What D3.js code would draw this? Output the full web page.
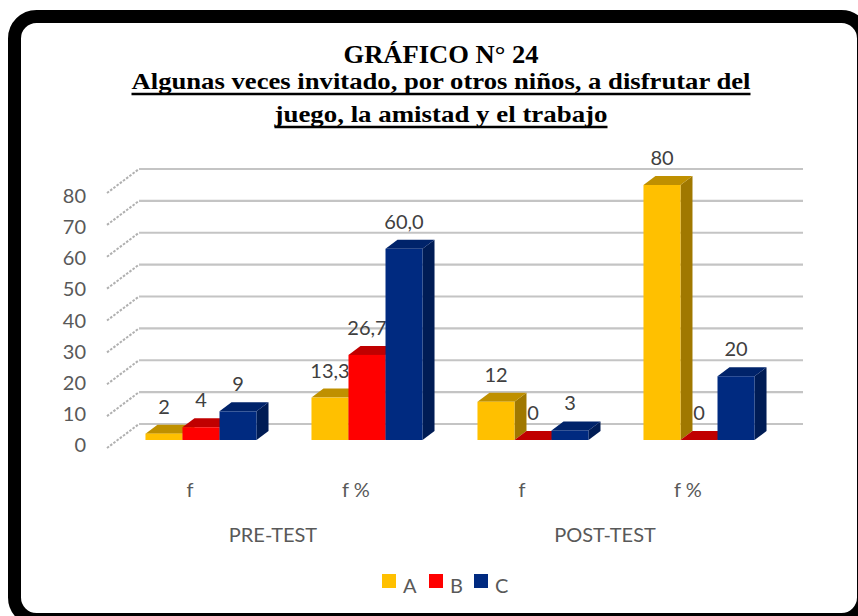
<!DOCTYPE html>
<html>
<head>
<meta charset="utf-8">
<script src="https://cdn.jsdelivr.net/npm/d3@7"></script>
<style>
  body { margin: 0; background: #fff; }
  svg { display: block; }
</style>
</head>
<body>
<div id="chart"></div>
<script>
// Data
var categories = ["f", "f %", "f", "f %"];
var groups = ["PRE-TEST", "POST-TEST"];
var seriesNames = ["A", "B", "C"];
var valuesA = [2, 13.3, 12, 80];
var valuesB = [4, 26.7, 0, 0];
var valuesC = [9, 60.0, 3, 20];
var labelsA = ["2", "13,3", "12", "80"];
var labelsB = ["4", "26,7", "0", "0"];
var labelsC = ["9", "60,0", "3", "20"];
var yTicks = [0, 10, 20, 30, 40, 50, 60, 70, 80];
var titleLines = ["GRÁFICO N° 24",
    "Algunas veces invitado, por otros niños, a disfrutar del",
    "juego, la amistad y el trabajo"];

var seriesValues = [valuesA, valuesB, valuesC];
var seriesLabels = [labelsA, labelsB, labelsC];

// colours: front, top, side
var front = ["#FFC000", "#FF0000", "#002A80"];
var topC  = ["#BF9000", "#C00000", "#00236A"];
var side  = ["#A07800", "#B00000", "#001C55"];

var svg = d3.select("#chart").append("svg")
    .attr("width", 858)
    .attr("height", 616);

// Global constants
var depthX = 32, depthY = -24;         // full depth of the 3D box
var barShiftX = 11, barShiftY = -8;    // bar front plane
var barDepthX = 12, barDepthY = -9;    // bar thickness
var font = "Lato, 'Open Sans', sans-serif";

// Scales
var xScale = d3.scaleBand()
    .domain(d3.range(categories.length))
    .range([107, 771])
    .paddingInner(0.331)
    .paddingOuter(0.1655);
var sScale = d3.scaleBand()
    .domain(seriesNames)
    .range([0, xScale.bandwidth()]);
var yScale = d3.scaleLinear()
    .domain([0, 80])
    .range([448, 193]);
var labelScale = d3.scaleLinear()
    .domain([0, 80])
    .range([445, 196]);

// Frame
svg.append("rect")
    .attr("x", 14.5)
    .attr("y", 16.5)
    .attr("width", 849)
    .attr("height", 603)
    .attr("rx", 22)
    .attr("fill", "#fff")
    .attr("stroke", "#000")
    .attr("stroke-width", 13);

// Title
var titleY = [63, 89, 122];
var titleW = [195, 619, 333];
titleLines.forEach(function(t, i) {
    svg.append("text")
        .attr("x", 441 - titleW[i] / 2)
        .attr("y", titleY[i])
        .attr("textLength", titleW[i])
        .attr("lengthAdjust", "spacingAndGlyphs")
        .style("font-family", "'Liberation Serif', 'Times New Roman', serif")
        .style("font-weight", "bold")
        .style("font-size", i == 0 ? "26px" : "23px")
        .attr("fill", "#000")
        .text(t);
    if (i > 0) {
        svg.append("line")
            .attr("x1", 441 - titleW[i] / 2)
            .attr("x2", 441 + titleW[i] / 2)
            .attr("y1", titleY[i] + 5)
            .attr("y2", titleY[i] + 5)
            .attr("stroke", "#000")
            .attr("stroke-width", 2.5);
    }
});

// Gridlines: back wall and dashed side wall
var grid = svg.append("g").attr("class", "grid");
yTicks.forEach(function(v) {
    var y = yScale(v);
    grid.append("line")
        .attr("x1", 107 + depthX).attr("x2", 771 + depthX)
        .attr("y1", y + depthY).attr("y2", y + depthY)
        .attr("stroke", "#c4c4c4")
        .attr("stroke-width", 2.2);
    grid.append("line")
        .attr("x1", 107).attr("x2", 107 + depthX)
        .attr("y1", y).attr("y2", y + depthY)
        .attr("stroke", "#b0b0b0")
        .attr("stroke-width", 2)
        .attr("stroke-dasharray", "2.5,1.5");
});

// Y axis labels
svg.append("g").selectAll("text")
    .data(yTicks)
    .enter().append("text")
    .attr("x", 86)
    .attr("y", function(d) { return labelScale(d); })
    .attr("dy", "0.35em")
    .attr("text-anchor", "end")
    .style("font-family", font)
    .style("font-size", "20px")
    .attr("fill", "#595959")
    .text(function(d) { return d; });

// Data labels (drawn behind the bars)
var barData = [];
categories.forEach(function(c, i) {
    seriesNames.forEach(function(s, j) {
        barData.push({ cat: i, s: j, name: s, v: seriesValues[j][i], label: seriesLabels[j][i] });
    });
});

function bx(d) { return xScale(d.cat) + sScale(d.name) + barShiftX; }
function by(v) { return yScale(v) + barShiftY; }

svg.append("g").selectAll("text")
    .data(barData)
    .enter().append("text")
    .attr("x", function(d) { return bx(d) + sScale.bandwidth() / 2; })
    .attr("y", function(d) { return by(d.v) - 27; })
    .attr("dy", "0.35em")
    .attr("text-anchor", "middle")
    .style("font-family", font)
    .style("font-size", "20px")
    .attr("fill", "#404040")
    .text(function(d) { return d.label; });

// Bars
var w = sScale.bandwidth();
var bars = svg.append("g").selectAll("g.bar")
    .data(barData)
    .enter().append("g")
    .attr("class", "bar");

bars.append("path")
    .attr("d", function(d) {
        var x = bx(d) + w, yt = by(d.v), yb = by(0);
        return "M" + x + "," + yb + "L" + x + "," + yt +
            "L" + (x + barDepthX) + "," + (yt + barDepthY) +
            "L" + (x + barDepthX) + "," + (yb + barDepthY) + "Z";
    })
    .attr("fill", function(d) { return side[d.s]; });

bars.append("path")
    .attr("d", function(d) {
        var x = bx(d), yt = by(d.v);
        return "M" + x + "," + yt + "L" + (x + w) + "," + yt +
            "L" + (x + w + barDepthX) + "," + (yt + barDepthY) +
            "L" + (x + barDepthX) + "," + (yt + barDepthY) + "Z";
    })
    .attr("fill", function(d) { return topC[d.s]; });

bars.append("rect")
    .attr("x", function(d) { return bx(d); })
    .attr("y", function(d) { return by(d.v); })
    .attr("width", w)
    .attr("height", function(d) { return by(0) - by(d.v); })
    .attr("fill", function(d) { return front[d.s]; });

// Category labels
svg.append("g").selectAll("text")
    .data(categories)
    .enter().append("text")
    .attr("x", function(d, i) { return xScale(i) + xScale.bandwidth() / 2; })
    .attr("y", 497)
    .attr("text-anchor", "middle")
    .style("font-family", font)
    .style("font-size", "20px")
    .attr("fill", "#595959")
    .text(function(d) { return d; });

svg.append("g").selectAll("text")
    .data(groups)
    .enter().append("text")
    .attr("x", function(d, i) {
        return (xScale(2 * i) + xScale(2 * i + 1) + xScale.bandwidth()) / 2;
    })
    .attr("y", 542)
    .attr("text-anchor", "middle")
    .style("font-family", font)
    .style("font-size", "20px")
    .attr("fill", "#595959")
    .text(function(d) { return d; });

// Legend
var legendX = [382, 429, 474];
var legend = svg.append("g").selectAll("g")
    .data(seriesNames)
    .enter().append("g")
    .attr("transform", function(d, i) { return "translate(" + legendX[i] + ",574)"; });
legend.append("rect")
    .attr("width", 14)
    .attr("height", 14)
    .attr("fill", function(d, i) { return front[i]; });
legend.append("text")
    .attr("x", 21)
    .attr("y", 19)
    .style("font-family", font)
    .style("font-size", "20px")
    .attr("fill", "#595959")
    .text(function(d) { return d; });
</script>
</body>
</html>
